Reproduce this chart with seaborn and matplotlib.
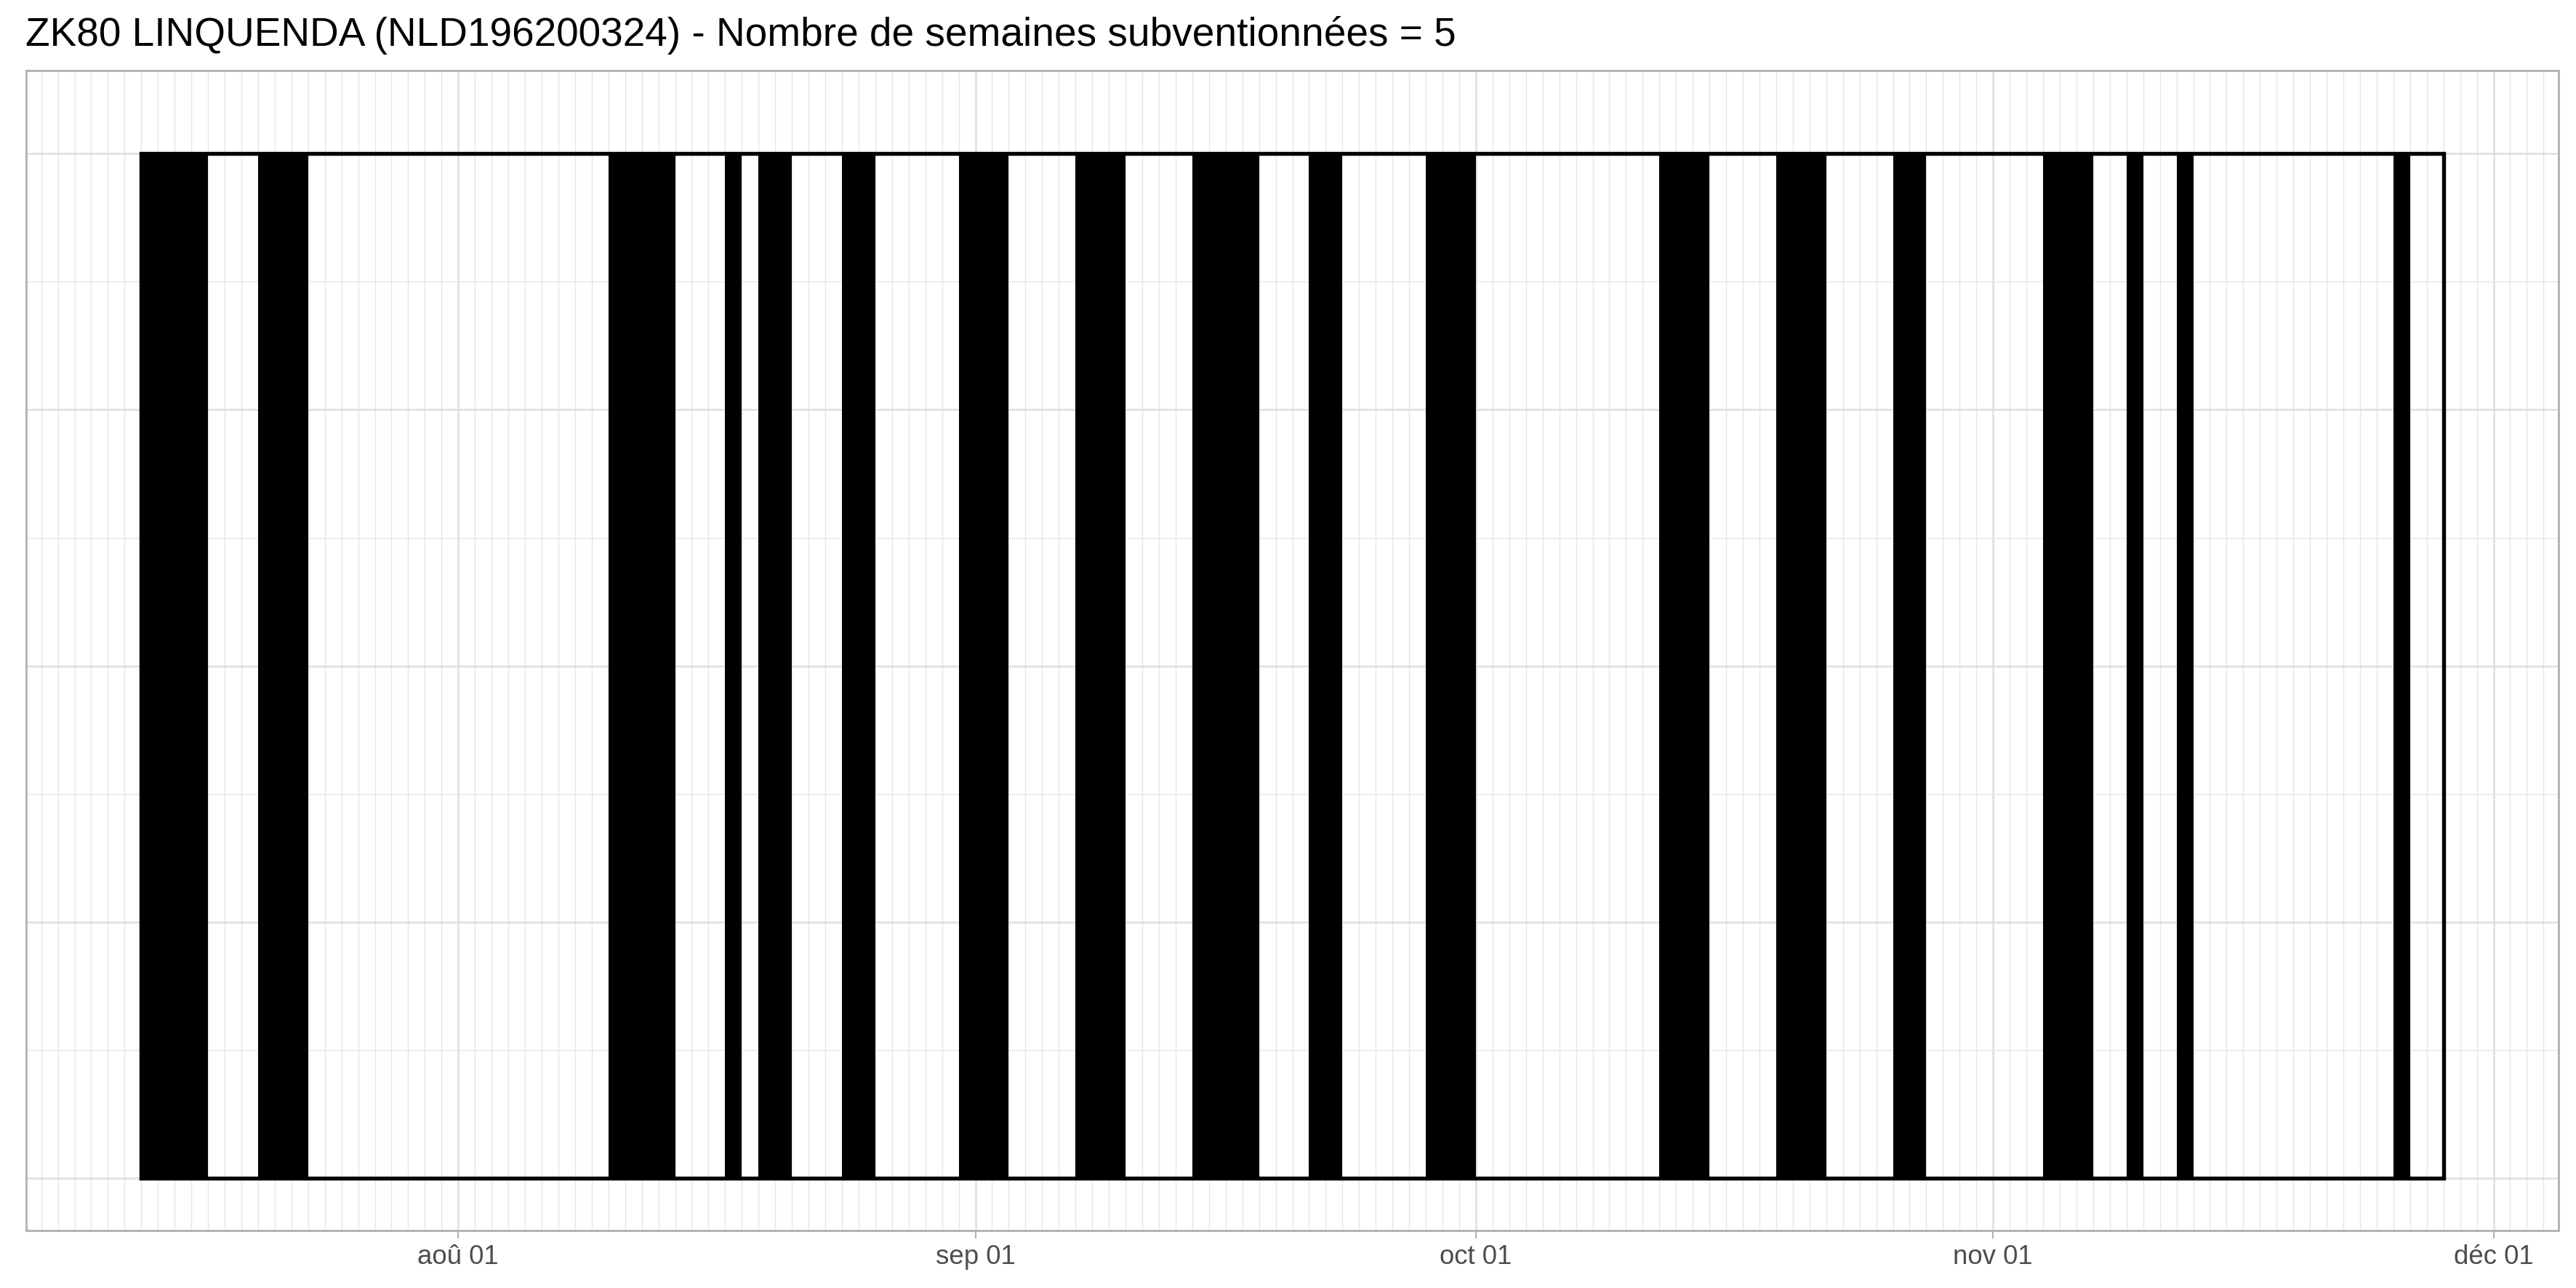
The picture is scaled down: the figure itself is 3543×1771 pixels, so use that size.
import numpy as np
import pandas as pd
import matplotlib
matplotlib.use("Agg")
import matplotlib.pyplot as plt
import matplotlib.dates as mdates
from matplotlib.patches import Rectangle
from matplotlib.ticker import MultipleLocator
import seaborn as sns

# data
title = "ZK80 LINQUENDA (NLD196200324) - Nombre de semaines subventionnées = 5"
period_start = "2020-07-13"
period_end = "2020-11-28"
trip_start = ["2020-07-13", "2020-07-20", "2020-08-10", "2020-08-17", "2020-08-19",
              "2020-08-24", "2020-08-31", "2020-09-07", "2020-09-14", "2020-09-21",
              "2020-09-28", "2020-10-12", "2020-10-19", "2020-10-26", "2020-11-04",
              "2020-11-09", "2020-11-12", "2020-11-25"]
trip_days = [4, 3, 4, 1, 2, 2, 3, 3, 4, 2, 3, 3, 3, 2, 3, 1, 1, 1]
tick_dates = ["2020-08-01", "2020-09-01", "2020-10-01", "2020-11-01", "2020-12-01"]
tick_labels = ["aoû 01", "sep 01", "oct 01", "nov 01", "déc 01"]

sns.set_theme(style="whitegrid")
plt.rcParams['font.family'] = ['Liberation Sans', 'DejaVu Sans']

# one row per day at sea
sea_days = []
for s, n in zip(trip_start, trip_days):
    for i in range(n):
        sea_days.append(pd.Timestamp(s) + pd.Timedelta(days=i))
df = pd.DataFrame({"day": mdates.date2num(sea_days)})

x0 = mdates.date2num(pd.Timestamp(period_start))
x1 = mdates.date2num(pd.Timestamp(period_end))
edges = np.arange(x0, x1 + 1)

fig = plt.figure(figsize=(3543 / 300, 1771 / 300), dpi=300)
ax = fig.add_axes([36 / 3543, 1 - 1692 / 1771, (3519 - 36) / 3543, (1692 - 97) / 1771])

sns.histplot(data=df, x="day", bins=edges, color="black", alpha=1, linewidth=0, ax=ax, zorder=2)
ax.add_patch(Rectangle((x0, 0), x1 - x0, 1, fill=False, edgecolor="black",
                       linewidth=1.3, joinstyle="miter", zorder=3))

span = x1 - x0
ax.set_xlim(x0 - 0.05 * span, x1 + 0.05 * span)
ax.set_ylim(-0.051, 1.081)

ax.set_xticks(mdates.date2num(pd.to_datetime(tick_dates)), tick_labels)
ax.xaxis.set_minor_locator(MultipleLocator(1))
ax.set_yticks([0, 0.25, 0.5, 0.75, 1])
ax.set_yticks([0.125, 0.375, 0.625, 0.875], minor=True)
ax.set_yticklabels([])
ax.set_xlabel("")
ax.set_ylabel("")

ax.set_axisbelow(True)
ax.grid(which="major", color="#dedede", linewidth=0.6)
ax.grid(which="minor", color="#e6e6e6", linewidth=0.35)

ax.tick_params(axis="x", which="major", length=2.6, width=0.5, color="#b3b3b3",
               labelsize=8.8, labelcolor="#4d4d4d", pad=2, bottom=True)
ax.tick_params(axis="x", which="minor", length=0)
ax.tick_params(axis="y", which="both", length=0)
for sp in ax.spines.values():
    sp.set_visible(True)
    sp.set_color("#b3b3b3")
    sp.set_linewidth(0.7)

fig.text(35 / 3543, 1 - 63 / 1771, title, fontsize=13.2, color="black",
         ha="left", va="baseline")

fig.savefig("out.png", dpi=300)
